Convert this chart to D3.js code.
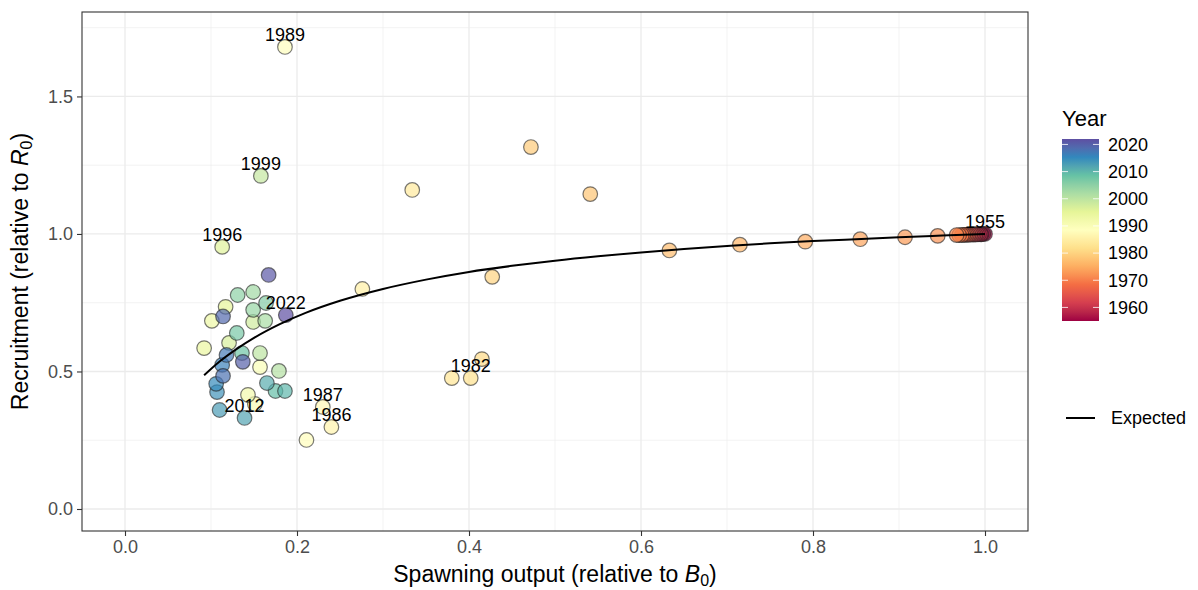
<!DOCTYPE html>
<html><head><meta charset="utf-8">
<script src="https://cdn.jsdelivr.net/npm/d3@7"></script>
<style>body{margin:0;background:#fff}svg{display:block}text{font-family:"Liberation Sans",Arial,sans-serif}</style>
</head><body><svg id="c" width="1198" height="590"></svg>
<script>
const years = [1955,1956,1957,1958,1959,1960,1961,1962,1963,1964,1965,1966,1967,1968,1969,1970,
 1971,1972,1973,1974,1975,1976,1977,1978,1979,1980,1981,1982,1983,1984,1985,1986,1987,1988,1989,
 1990,1991,1992,1993,1994,1995,1996,1997,1998,1999,2000,2001,2002,2003,2004,2005,2006,2007,2008,2009,
 2010,2011,2012,2013,2014,2015,2016,2017,2018,2019,2020,2021,2022];
const spawning = [1.000,0.998,0.996,0.995,0.993,0.991,0.989,0.987,0.985,0.983,0.981,0.979,0.977,0.975,0.973,0.970,
 0.967,0.945,0.907,0.855,0.791,0.715,0.633,0.541,0.472,0.427,0.415,0.402,0.380,0.334,0.276,0.240,0.230,0.211,0.186,
 0.157,0.151,0.143,0.101,0.092,0.117,0.113,0.121,0.149,0.158,0.157,0.179,0.163,0.149,0.149,0.131,0.164,0.130,0.136,0.175,
 0.186,0.165,0.139,0.110,0.107,0.106,0.113,0.118,0.114,0.114,0.137,0.167,0.187];
const recruitment = [1.000,1.000,0.999,0.999,0.999,0.999,0.998,0.998,0.998,0.998,0.997,0.997,0.997,0.997,0.996,0.996,
 0.996,0.993,0.988,0.981,0.972,0.961,0.940,1.145,1.316,0.844,0.545,0.476,0.476,1.160,0.800,0.298,0.371,0.251,1.680,
 0.516,0.382,0.415,0.684,0.585,0.735,0.953,0.604,0.680,1.211,0.567,0.502,0.684,0.789,0.724,0.778,0.749,0.640,0.567,0.429,
 0.429,0.458,0.331,0.360,0.425,0.455,0.524,0.560,0.484,0.700,0.535,0.851,0.705];
const labelYears = [1955,1982,1986,1987,1989,1996,1999,2012,2022];
const expectedS = [0.092,0.11,0.13,0.15,0.18,0.21,0.25,0.30,0.35,0.40,0.45,0.50,0.55,0.60,0.65,0.70,0.75,0.80,0.85,0.90,0.95,1.00];
const expectedR = [0.486,0.536,0.582,0.622,0.672,0.713,0.757,0.800,0.834,0.862,0.884,0.903,0.919,0.933,0.945,0.956,0.966,0.974,0.981,0.988,0.994,1.000];
const xTicks = [0,0.2,0.4,0.6,0.8,1.0];
const yTicks = [0,0.5,1.0,1.5];
const legendTicks = [1960,1970,1980,1990,2000,2010,2020];
const palette = ["#9E0142","#D53E4F","#F46D43","#FDAE61","#FEE08B","#FFFFBF","#E6F598","#ABDDA4","#66C2A5","#3288BD","#5E4FA2"];

const svg = d3.select("#c");
const P = {l:82, r:1028, t:12, b:531};
const x = d3.scaleLinear().domain([-0.05,1.05]).range([P.l,P.r]);
const y = d3.scaleLinear().domain([-0.08,1.807]).range([P.b,P.t]);
const yr0 = d3.min(years), yr1 = d3.max(years);
const col = d3.scaleLinear().domain(palette.map((c,i)=>yr0+(yr1-yr0)*i/(palette.length-1))).range(palette).interpolate(d3.interpolateLab);

// grid
const g = svg.append("g");
const xMinor = xTicks.slice(0,-1).map((v,i)=>(v+xTicks[i+1])/2);
const yMinor = yTicks.map(v=>v+0.25);
g.selectAll(".xm").data(xMinor).join("line").attr("x1",d=>x(d)).attr("x2",d=>x(d)).attr("y1",P.t).attr("y2",P.b).attr("stroke","#ebebeb").attr("stroke-width",0.6);
g.selectAll(".ym").data(yMinor).join("line").attr("y1",d=>y(d)).attr("y2",d=>y(d)).attr("x1",P.l).attr("x2",P.r).attr("stroke","#ebebeb").attr("stroke-width",0.6);
g.selectAll(".xM").data(xTicks).join("line").attr("x1",d=>x(d)).attr("x2",d=>x(d)).attr("y1",P.t).attr("y2",P.b).attr("stroke","#ebebeb").attr("stroke-width",1.3);
g.selectAll(".yM").data(yTicks).join("line").attr("y1",d=>y(d)).attr("y2",d=>y(d)).attr("x1",P.l).attr("x2",P.r).attr("stroke","#ebebeb").attr("stroke-width",1.3);

// points
const data = years.map((yr,i)=>({yr, s:spawning[i], r:recruitment[i]}));
svg.append("g").selectAll("circle").data(data).join("circle")
  .attr("cx",d=>x(d.s)).attr("cy",d=>y(d.r)).attr("r",7.3)
  .attr("fill",d=>col(d.yr)).attr("fill-opacity",0.7)
  .attr("stroke","#222").attr("stroke-opacity",0.6).attr("stroke-width",1.2);

// expected curve
const curve = expectedS.map((s,i)=>[s,expectedR[i]]);
svg.append("path").datum(curve).attr("d",d3.line().x(d=>x(d[0])).y(d=>y(d[1])).curve(d3.curveMonotoneX))
  .attr("fill","none").attr("stroke","#000").attr("stroke-width",2);

// labels
svg.append("g").selectAll("text").data(data.filter(d=>labelYears.includes(d.yr))).join("text")
  .attr("x",d=>x(d.s)).attr("y",d=>y(d.r)-12).attr("dy","0.35em").attr("text-anchor","middle")
  .attr("font-size",18).attr("fill","#000").text(d=>d.yr);

// border
svg.append("rect").attr("x",P.l).attr("y",P.t).attr("width",P.r-P.l).attr("height",P.b-P.t).attr("fill","none").attr("stroke","#333").attr("stroke-width",1.1);

// axes
const xa = svg.append("g").attr("transform",`translate(0,${P.b})`).call(d3.axisBottom(x).tickValues(xTicks).tickFormat(d3.format(".1f")).tickSize(5).tickPadding(4));
const ya = svg.append("g").attr("transform",`translate(${P.l},0)`).call(d3.axisLeft(y).tickValues(yTicks).tickFormat(d3.format(".1f")).tickSize(5).tickPadding(4));
[xa,ya].forEach(a=>{a.select(".domain").remove();a.selectAll("line").attr("stroke","#333").attr("stroke-width",1.1);
  a.selectAll("text").attr("font-size",18).attr("fill","#4d4d4d").attr("font-family","Liberation Sans, Arial, sans-serif");});

// axis titles
const xt = svg.append("text").attr("x",(P.l+P.r)/2).attr("y",582).attr("text-anchor","middle").attr("font-size",23).attr("fill","#000");
xt.append("tspan").text("Spawning output (relative to ");
xt.append("tspan").attr("font-style","italic").text("B");
xt.append("tspan").attr("font-size",16).attr("dy",3.5).text("0");
xt.append("tspan").attr("dy",-3.5).text(")");
const yt = svg.append("text").attr("transform",`translate(28,${(P.t+P.b)/2}) rotate(-90)`).attr("text-anchor","middle").attr("font-size",23).attr("fill","#000");
yt.append("tspan").text("Recruitment (relative to ");
yt.append("tspan").attr("font-style","italic").text("R");
yt.append("tspan").attr("font-size",16).attr("dy",3.5).text("0");
yt.append("tspan").attr("dy",-3.5).text(")");

// legend colourbar
const L = {x:1062, w:37, top:139, bot:321};
const ly = d3.scaleLinear().domain([yr0,yr1]).range([L.bot,L.top]);
const grad = svg.append("defs").append("linearGradient").attr("id","gb").attr("x1",0).attr("x2",0).attr("y1",1).attr("y2",0);
d3.range(0,1.0001,0.05).forEach(t=>grad.append("stop").attr("offset",t).attr("stop-color",col(yr0+t*(yr1-yr0))));
svg.append("text").attr("x",L.x).attr("y",126).attr("font-size",22).attr("fill","#000").text("Year");
svg.append("rect").attr("x",L.x).attr("y",L.top).attr("width",L.w).attr("height",L.bot-L.top).attr("fill","url(#gb)");
const lt = svg.append("g").selectAll("g").data(legendTicks).join("g");
lt.append("line").attr("x1",L.x).attr("x2",L.x+6).attr("y1",d=>ly(d)).attr("y2",d=>ly(d)).attr("stroke","#fff").attr("stroke-opacity",0.8).attr("stroke-width",1);
lt.append("line").attr("x1",L.x+L.w-6).attr("x2",L.x+L.w).attr("y1",d=>ly(d)).attr("y2",d=>ly(d)).attr("stroke","#fff").attr("stroke-opacity",0.8).attr("stroke-width",1);
lt.append("text").attr("x",L.x+L.w+9).attr("y",d=>ly(d)).attr("dy","0.35em").attr("font-size",18).attr("fill","#000").text(d=>d);

// expected legend
svg.append("line").attr("x1",1066).attr("x2",1095).attr("y1",418).attr("y2",418).attr("stroke","#000").attr("stroke-width",2);
svg.append("text").attr("x",1111).attr("y",418).attr("dy","0.35em").attr("font-size",18).attr("fill","#000").text("Expected");
</script></body></html>
